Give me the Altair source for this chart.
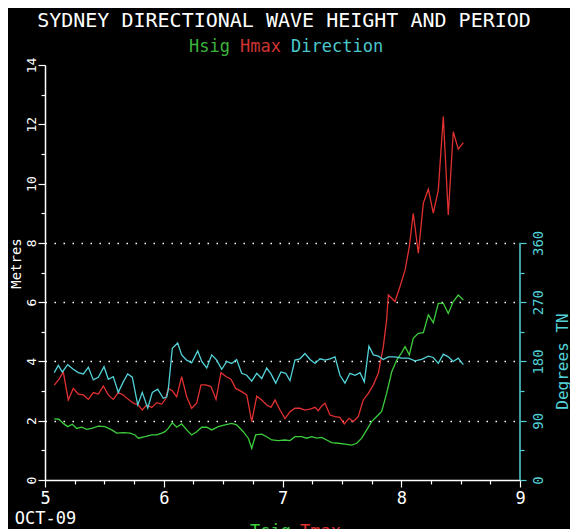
import altair as alt
import pandas as pd

# ---------------- data ----------------
TITLE = "SYDNEY DIRECTIONAL WAVE HEIGHT AND PERIOD"
LEGEND = ["Hsig", "Hmax", "Direction"]
BOTTOM = ["Tsig", "Tmax"]

X_TICKS = [5, 5.25, 5.5, 5.75, 6, 6.25, 6.5, 6.75, 7, 7.25, 7.5, 7.75, 8, 8.25, 8.5, 8.75, 9]
Y_TICKS = [0, 1, 2, 3, 4, 5, 6, 7, 8, 9, 10, 11, 12, 13, 14]
DEG_TICKS = [0, 45, 90, 135, 180, 225, 270, 315, 360]

hsig_t = [5.078, 5.118, 5.154, 5.191, 5.230, 5.267, 5.309, 5.351, 5.393, 5.449,
          5.505, 5.562, 5.604, 5.659, 5.716, 5.758, 5.786, 5.842, 5.899, 5.941,
          5.983, 6.011, 6.038, 6.072, 6.109, 6.151, 6.193, 6.235, 6.277, 6.320,
          6.362, 6.404, 6.459, 6.516, 6.572, 6.614, 6.670, 6.712, 6.741, 6.774,
          6.825, 6.867, 6.909, 6.965, 7.021, 7.063, 7.105, 7.162, 7.204, 7.246,
          7.288, 7.330, 7.372, 7.414, 7.470, 7.526, 7.583, 7.625, 7.667, 7.709,
          7.751, 7.793, 7.835, 7.877, 7.920, 7.962, 8.004, 8.032, 8.068, 8.101,
          8.144, 8.186, 8.228, 8.270, 8.312, 8.354, 8.396, 8.438, 8.480, 8.523]
hsig_m = [2.06, 2.05, 1.91, 1.80, 1.88, 1.74, 1.78, 1.71, 1.74, 1.82,
          1.80, 1.69, 1.58, 1.60, 1.58, 1.52, 1.41, 1.46, 1.52, 1.52,
          1.58, 1.63, 1.74, 1.93, 1.78, 1.89, 1.69, 1.52, 1.63, 1.78,
          1.78, 1.69, 1.80, 1.86, 1.91, 1.86, 1.63, 1.41, 1.07, 1.52,
          1.55, 1.46, 1.35, 1.33, 1.35, 1.33, 1.46, 1.46, 1.41, 1.46,
          1.41, 1.44, 1.35, 1.26, 1.24, 1.21, 1.18, 1.24, 1.41, 1.69,
          1.97, 2.14, 2.31, 2.92, 3.65, 4.05, 4.30, 4.50, 4.22, 4.78,
          4.95, 4.97, 5.57, 5.31, 5.96, 5.96, 5.62, 6.02, 6.24, 6.07]

hmax_t = [5.078, 5.118, 5.154, 5.196, 5.238, 5.280, 5.323, 5.365, 5.407, 5.449,
          5.491, 5.533, 5.575, 5.617, 5.659, 5.701, 5.744, 5.786, 5.819, 5.856,
          5.899, 5.941, 5.983, 6.016, 6.038, 6.072, 6.109, 6.151, 6.193, 6.235,
          6.277, 6.314, 6.353, 6.398, 6.440, 6.482, 6.524, 6.566, 6.606, 6.656,
          6.699, 6.741, 6.783, 6.825, 6.867, 6.903, 6.937, 6.979, 7.021, 7.063,
          7.105, 7.147, 7.189, 7.232, 7.274, 7.301, 7.330, 7.358, 7.400, 7.442,
          7.484, 7.520, 7.560, 7.596, 7.638, 7.680, 7.723, 7.765, 7.807, 7.849,
          7.877, 7.891, 7.920, 7.947, 7.989, 8.032, 8.068, 8.101, 8.144, 8.186,
          8.228, 8.270, 8.312, 8.354, 8.396, 8.438, 8.480, 8.523]
hmax_m = [3.20, 3.40, 3.65, 2.70, 3.09, 2.90, 2.87, 2.72, 2.95, 2.90,
          3.17, 2.87, 2.72, 2.95, 2.87, 2.72, 2.59, 2.53, 2.36, 2.53,
          2.45, 2.61, 2.56, 2.74, 3.09, 3.01, 2.81, 3.49, 2.81, 2.42,
          2.59, 3.21, 3.21, 3.15, 2.72, 3.62, 3.49, 3.40, 3.09, 2.98,
          2.87, 1.97, 2.83, 2.70, 2.53, 2.45, 2.70, 2.36, 2.07, 2.30,
          2.42, 2.42, 2.36, 2.39, 2.45, 2.34, 2.50, 2.59, 2.19, 2.14,
          2.11, 1.89, 2.08, 1.97, 2.14, 2.70, 2.92, 3.21, 3.60, 4.50,
          5.40, 6.24, 6.13, 6.02, 6.52, 7.08, 7.87, 9.00, 7.65, 9.34,
          9.81, 9.00, 9.78, 12.26, 8.94, 11.75, 11.16, 11.38]

dir_t = [5.078, 5.112, 5.146, 5.191, 5.238, 5.280, 5.323, 5.365, 5.407, 5.449,
         5.497, 5.533, 5.575, 5.617, 5.659, 5.696, 5.735, 5.781, 5.819, 5.865,
         5.904, 5.949, 5.996, 6.025, 6.038, 6.072, 6.117, 6.151, 6.193, 6.235,
         6.286, 6.320, 6.362, 6.404, 6.446, 6.488, 6.530, 6.572, 6.614, 6.656,
         6.699, 6.741, 6.783, 6.825, 6.867, 6.903, 6.943, 6.987, 7.027, 7.063,
         7.105, 7.147, 7.189, 7.232, 7.274, 7.316, 7.358, 7.400, 7.442, 7.484,
         7.526, 7.568, 7.611, 7.653, 7.689, 7.728, 7.765, 7.807, 7.849, 7.891,
         7.947, 8.004, 8.059, 8.116, 8.172, 8.228, 8.270, 8.312, 8.354, 8.396,
         8.438, 8.480, 8.523]
dir_deg = [163, 174, 164, 175, 168, 163, 161, 171, 152, 156,
           172, 153, 157, 133, 149, 161, 156, 114, 133, 109,
           133, 138, 124, 126, 137, 200, 208, 190, 182, 178,
           196, 180, 170, 190, 182, 168, 180, 177, 183, 162,
           159, 150, 162, 154, 170, 161, 147, 164, 162, 151,
           182, 184, 192, 183, 177, 184, 182, 184, 187, 159,
           147, 162, 159, 163, 149, 203, 190, 188, 183, 187,
           187, 185, 185, 181, 183, 188, 186, 177, 191, 187,
           180, 185, 175]

# ---------------- styling ----------------
FONT = "DejaVu Sans Mono"
GREEN = "#3ccc3c"
RED = "#e03030"
CYAN = "#52d2d8"
LEG_COLORS = ["#3cb43c", "#d03434", "#4ac8cc"]

hs = pd.DataFrame({"t": hsig_t, "v": hsig_m})
hm = pd.DataFrame({"t": hmax_t, "v": hmax_m})
dr = pd.DataFrame({"t": dir_t, "deg": dir_deg})
axis_line = pd.DataFrame({"t": [X_TICKS[-1]], "deg": [DEG_TICKS[0]], "deg2": [DEG_TICKS[-1]]})

x_scale = alt.Scale(domain=[X_TICKS[0], X_TICKS[-1]], nice=False, zero=False)
y_scale = alt.Scale(domain=[Y_TICKS[0], Y_TICKS[-1]], nice=False)
# 360 degrees sits at the 8 m level
r_scale = alt.Scale(domain=[0, 630], nice=False)

x_axis = alt.Axis(
    values=X_TICKS, title=None, grid=False,
    labelExpr="datum.value == 5 ? ['5', 'OCT-09'] : (datum.value % 1 == 0 ? format(datum.value, 'd') : '')",
    tickSize={"condition": {"test": "datum.value % 1 == 0", "value": 7}, "value": 4},
    domainColor="white", domainWidth=1.5, tickColor="white", tickWidth=1.2,
    labelColor="white", labelFont=FONT, labelFontSize=17, labelPadding=3,
    labelLineHeight=20, labelAlign="center", labelBaseline="top",
    labelFlush=False, labelOverlap=False,
)

y_axis = alt.Axis(
    values=Y_TICKS, orient="left",
    labelExpr="datum.value % 2 == 0 ? datum.label : ''",
    tickSize={"condition": {"test": "datum.value % 2 == 0", "value": 7}, "value": 4},
    grid=True, gridColor="white", gridDash=[1.5, 7.5], gridWidth=1.5,
    gridOpacity={"condition": {"test": "datum.value >= 2 && datum.value <= 8 && datum.value % 2 == 0", "value": 1}, "value": 0},
    domainColor="white", domainWidth=1.5, tickColor="white", tickWidth=1.2,
    labelColor="white", labelFont=FONT, labelFontSize=13, labelAngle=270,
    labelAlign="center", labelBaseline="alphabetic", labelPadding=3,
    labelOverlap=False, labelFlush=False,
    title="Metres", titleColor="white", titleFont=FONT, titleFontSize=14,
    titleFontWeight="normal", titleAngle=270, titleAlign="center",
    titleBaseline="top", titleX=-36, titleY=198,
)

r_axis = alt.Axis(
    values=DEG_TICKS, orient="right", domain=False, grid=False,
    labelExpr="datum.value % 90 == 0 ? datum.label : ''",
    tickSize={"condition": {"test": "datum.value % 90 == 0", "value": 6}, "value": 4},
    tickColor=CYAN, tickWidth=1.2,
    labelColor=CYAN, labelFont=FONT, labelFontSize=14, labelAngle=270,
    labelAlign="center", labelBaseline="top", labelPadding=5,
    labelOverlap=False, labelFlush=False,
    title="Degrees TN", titleColor=CYAN, titleFont=FONT, titleFontSize=16,
    titleFontWeight="normal", titleAngle=270, titleAlign="center",
    titleBaseline="top", titleX=34, titleY=296,
)

hsig_line = alt.Chart(hs).mark_line(color=GREEN, strokeWidth=1.3).encode(
    x=alt.X("t:Q", scale=x_scale, axis=x_axis),
    y=alt.Y("v:Q", scale=y_scale, axis=y_axis),
)
hmax_line = alt.Chart(hm).mark_line(color=RED, strokeWidth=1.3).encode(
    x=alt.X("t:Q", scale=x_scale, axis=x_axis),
    y=alt.Y("v:Q", scale=y_scale, axis=y_axis),
)

title_text = alt.Chart(pd.DataFrame({"s": [TITLE]})).mark_text(
    font=FONT, fontSize=20, color="white", align="center", baseline="alphabetic"
).encode(x=alt.value(239), y=alt.value(-38), text="s:N")

legend_x = [144, 195, 246]
legend_layers = []
for word, col, xp in zip(LEGEND, LEG_COLORS, legend_x):
    legend_layers.append(
        alt.Chart(pd.DataFrame({"s": [word]})).mark_text(
            font=FONT, fontSize=17, color=col, align="left", baseline="alphabetic"
        ).encode(x=alt.value(xp), y=alt.value(-13), text="s:N")
    )

bottom_layers = []
for word, col, xp in zip(BOTTOM, [GREEN, RED], [205, 255]):
    bottom_layers.append(
        alt.Chart(pd.DataFrame({"s": [word]})).mark_text(
            font=FONT, fontSize=17, color=col, align="left", baseline="top"
        ).encode(x=alt.value(xp), y=alt.value(459), text="s:N")
    )

left = alt.layer(hsig_line, hmax_line, title_text, *legend_layers, *bottom_layers)

dir_line = alt.Chart(dr).mark_line(color=CYAN, strokeWidth=1.3).encode(
    x=alt.X("t:Q", scale=x_scale, axis=x_axis),
    y=alt.Y("deg:Q", scale=r_scale, axis=r_axis),
)
r_rule = alt.Chart(axis_line).mark_rule(color=CYAN, strokeWidth=1.5).encode(
    x=alt.X("t:Q", scale=x_scale, axis=x_axis),
    y=alt.Y("deg:Q", scale=r_scale, axis=r_axis),
    y2="deg2:Q",
)
right = alt.layer(dir_line, r_rule)

chart = (
    alt.layer(left, right)
    .resolve_scale(y="independent")
    .properties(
        width=475, height=415,
        padding={"left": 37, "top": 57, "right": 50, "bottom": 49},
        autosize=alt.AutoSizeParams(type="none"),
    )
    .configure(background="black")
    .configure_view(strokeWidth=0)
)

chart.save("out.html", embed_options={"renderer": "svg", "actions": False})
